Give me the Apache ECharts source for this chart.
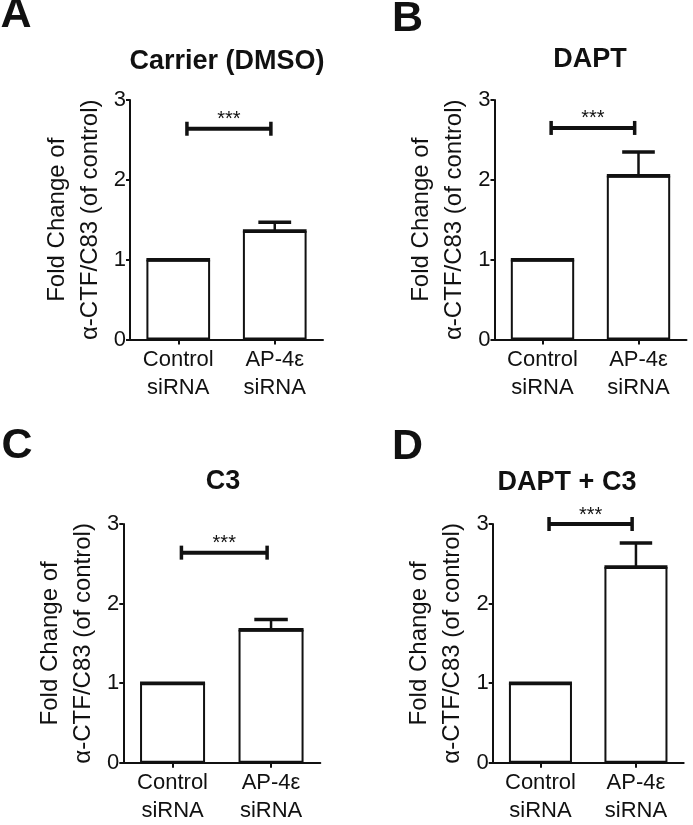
<!DOCTYPE html>
<html><head><meta charset="utf-8">
<script src="https://cdn.jsdelivr.net/npm/echarts/dist/echarts.min.js"></script>
<style>html,body{margin:0;padding:0;background:#fff}#c{width:693px;height:825px}</style>
</head><body><div id="c"></div>
<script>
// ---- data ----
const categories = ['Control\nsiRNA', 'AP-4ε\nsiRNA'];
const panelLetters = ['A', 'B', 'C', 'D'];
const panelTitles = ['Carrier (DMSO)', 'DAPT', 'C3', 'DAPT + C3'];
const yAxisTitle = 'Fold Change of\nα-CTF/C83 (of control)';
const yMin = 0, yMax = 3, yStep = 1;
const meansA = [1.00, 1.36]; const semA = [0, 0.11];
const meansB = [1.00, 2.05]; const semB = [0, 0.30];
const meansC = [1.00, 1.67]; const semC = [0, 0.13];
const meansD = [1.00, 2.46]; const semD = [0, 0.30];
const sigLevels = [2.64, 2.65, 2.64, 3.0];
const sigLabel = '***';

const means = [meansA, meansB, meansC, meansD];
const sems = [semA, semB, semC, semD];

// ---- layout ----
const FONT = '"Liberation Sans", Arial, sans-serif';
const INK = '#111';
const grids = [
  {left: 130, top: 100, width: 193, height: 239.5},
  {left: 494.5, top: 100, width: 192, height: 239.5},
  {left: 123.3, top: 524, width: 197, height: 238.7},
  {left: 492.7, top: 524, width: 191, height: 238.7}
];
const letterPos = [[16, 15], [407.5, 19.5], [17, 446.5], [407.5, 447.5]];
const titlePos = [[227, 62], [590, 60], [223, 482], [567, 483]];

function renderErr(params, api) {
  const x = api.value(0), m = api.value(1), e = api.value(2);
  const p = api.coord([x, m]);
  const band = api.size([1, 0])[0];
  const hw = band * 0.33;
  const ch = [{type: 'line', shape: {x1: p[0] - hw, y1: p[1], x2: p[0] + hw, y2: p[1]},
    style: {stroke: INK, lineWidth: 3.5}}];
  if (e > 0) {
    const t = api.coord([x, m + e]);
    const cw = band * 0.17;
    ch.push({type: 'line', shape: {x1: p[0], y1: p[1], x2: p[0], y2: t[1]}, style: {stroke: INK, lineWidth: 2.5}});
    ch.push({type: 'line', shape: {x1: p[0] - cw, y1: t[1], x2: p[0] + cw, y2: t[1]}, style: {stroke: INK, lineWidth: 3.5}});
  }
  return {type: 'group', children: ch};
}
function renderSig(params, api) {
  const a = api.value(0), b = api.value(1), lv = api.value(2);
  const p0 = api.coord([a, lv]), p1 = api.coord([b, lv]);
  const band = api.size([1, 0])[0];
  const x1 = p0[0] + band * 0.09, x2 = p1[0] - band * 0.04, y = p0[1];
  return {type: 'group', children: [
    {type: 'line', shape: {x1: x1, y1: y, x2: x2, y2: y}, style: {stroke: INK, lineWidth: 4}},
    {type: 'line', shape: {x1: x1, y1: y - 7, x2: x1, y2: y + 7}, style: {stroke: INK, lineWidth: 3.5}},
    {type: 'line', shape: {x1: x2, y1: y - 7, x2: x2, y2: y + 7}, style: {stroke: INK, lineWidth: 3.5}},
    {type: 'text', style: {text: sigLabel, x: (x1 + x2) / 2, y: y - 9, align: 'center', verticalAlign: 'middle',
      font: '20px ' + FONT, fill: INK}}
  ]};
}

const option = {
  backgroundColor: '#fff',
  animation: false,
  grid: grids.map(g => Object.assign({containLabel: false}, g)),
  xAxis: grids.map((g, i) => ({
    type: 'category', gridIndex: i, data: categories,
    axisLine: {lineStyle: {color: INK, width: 2}},
    axisTick: {show: true, alignWithLabel: true, length: 5, lineStyle: {color: INK, width: 2}},
    axisLabel: {color: INK, fontSize: 22, lineHeight: 28, fontFamily: FONT, margin: 6, interval: 0}
  })),
  yAxis: grids.map((g, i) => ({
    type: 'value', gridIndex: i, min: yMin, max: yMax, interval: yStep,
    name: yAxisTitle, nameLocation: 'middle', nameRotate: 90, nameGap: 23.5,
    nameTextStyle: {color: INK, fontSize: 24, lineHeight: 33, fontFamily: FONT},
    axisLine: {show: true, lineStyle: {color: INK, width: 2}},
    axisTick: {show: true, length: 4, lineStyle: {color: INK, width: 2}},
    splitLine: {show: false},
    axisLabel: {color: INK, fontSize: 22, fontFamily: FONT, margin: 4}
  })),
  series: [],
  graphic: []
};

means.forEach((m, i) => {
  option.series.push({
    type: 'bar', xAxisIndex: i, yAxisIndex: i, data: m, barWidth: '66%', silent: true,
    itemStyle: {color: '#fff', borderColor: INK, borderWidth: 2}
  });
  option.series.push({
    type: 'custom', xAxisIndex: i, yAxisIndex: i, silent: true, clip: false, z: 3,
    data: m.map((v, k) => [k, v, sems[i][k]]), renderItem: renderErr
  });
  option.series.push({
    type: 'custom', xAxisIndex: i, yAxisIndex: i, silent: true, clip: false, z: 3,
    data: [[0, 1, sigLevels[i]]], renderItem: renderSig
  });
  option.graphic.push({type: 'text', x: letterPos[i][0], y: letterPos[i][1],
    style: {text: panelLetters[i], font: 'bold 43px ' + FONT, fill: INK, align: 'center', verticalAlign: 'middle'}});
  option.graphic.push({type: 'text', x: titlePos[i][0], y: titlePos[i][1],
    style: {text: panelTitles[i], font: 'bold 27px ' + FONT, fill: INK, align: 'center', verticalAlign: 'middle'}});
});

const chart = echarts.init(document.getElementById('c'), null, {renderer: 'canvas'});
chart.setOption(option);
</script>
</body></html>
